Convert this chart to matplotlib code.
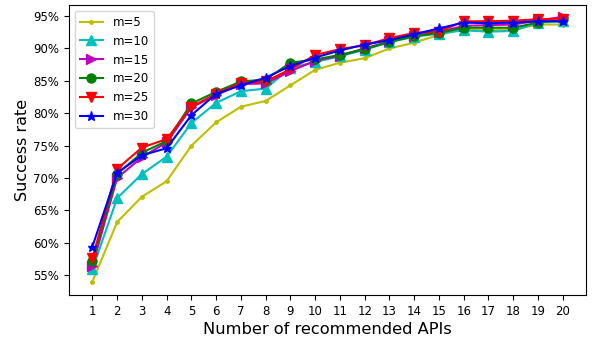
import numpy as np
import matplotlib
matplotlib.use("Agg")
import matplotlib.pyplot as plt
from matplotlib.ticker import FuncFormatter

# number of recommended APIs
k = np.arange(1, 21)

# success rate (%) per m
m5 = [54.0, 63.2, 67.1, 69.5, 75.0, 78.6, 81.0, 81.9, 84.3, 86.7,
      87.8, 88.5, 90.0, 90.9, 92.1, 93.0, 92.8, 92.9, 93.7, 93.7]
m10 = [55.9, 66.9, 70.6, 73.3, 78.5, 81.6, 83.4, 83.8, 87.0, 87.9,
       88.8, 89.8, 91.0, 91.8, 92.3, 92.8, 92.6, 92.7, 94.0, 94.2]
m15 = [56.4, 70.0, 73.2, 75.5, 80.9, 82.8, 84.5, 84.6, 86.5, 88.1,
       88.9, 90.0, 91.1, 92.0, 92.5, 93.5, 93.6, 93.7, 94.3, 94.9]
m20 = [57.1, 70.6, 73.9, 75.7, 81.5, 83.3, 84.9, 85.2, 87.8, 88.3,
       89.0, 89.9, 91.0, 91.9, 92.4, 93.2, 93.2, 93.2, 94.0, 94.5]
m25 = [57.6, 71.4, 74.7, 76.0, 81.0, 83.0, 84.7, 84.9, 86.8, 89.0,
       89.9, 90.5, 91.6, 92.4, 92.6, 94.2, 94.2, 94.3, 94.5, 94.6]
m30 = [59.4, 70.8, 73.5, 74.6, 79.7, 83.0, 84.3, 85.5, 87.3, 88.6,
       89.7, 90.6, 91.3, 92.2, 93.1, 94.0, 93.9, 94.0, 94.2, 94.2]

series = [
    ("m=5", m5, "y", "."),
    ("m=10", m10, "c", "^"),
    ("m=15", m15, "m", ">"),
    ("m=20", m20, "g", "o"),
    ("m=25", m25, "r", "v"),
    ("m=30", m30, "b", "*"),
]

fig = plt.figure(figsize=(5.94, 3.4), dpi=100)
ax = fig.add_axes([0.116, 0.132, 0.871, 0.853])

for label, vals, col, mk in series:
    ms = 5 if mk == "." else 6.5
    ax.plot(k, vals, color=col, marker=mk, markersize=ms, linewidth=1.5, label=label)

ax.set_xticks(k)
ax.set_yticks(np.arange(55, 96, 5))
ax.set_ylim(51.9, 96.7)
ax.yaxis.set_major_formatter(FuncFormatter(lambda v, p: "%d%%" % v))
ax.tick_params(labelsize=8.5)
ax.set_xlabel("Number of recommended APIs", fontsize=11.7, labelpad=3)
ax.set_ylabel("Success rate", fontsize=11.5, labelpad=2)
ax.legend(loc="upper left", fontsize=8.5)

fig.savefig("out.png", dpi=100)
